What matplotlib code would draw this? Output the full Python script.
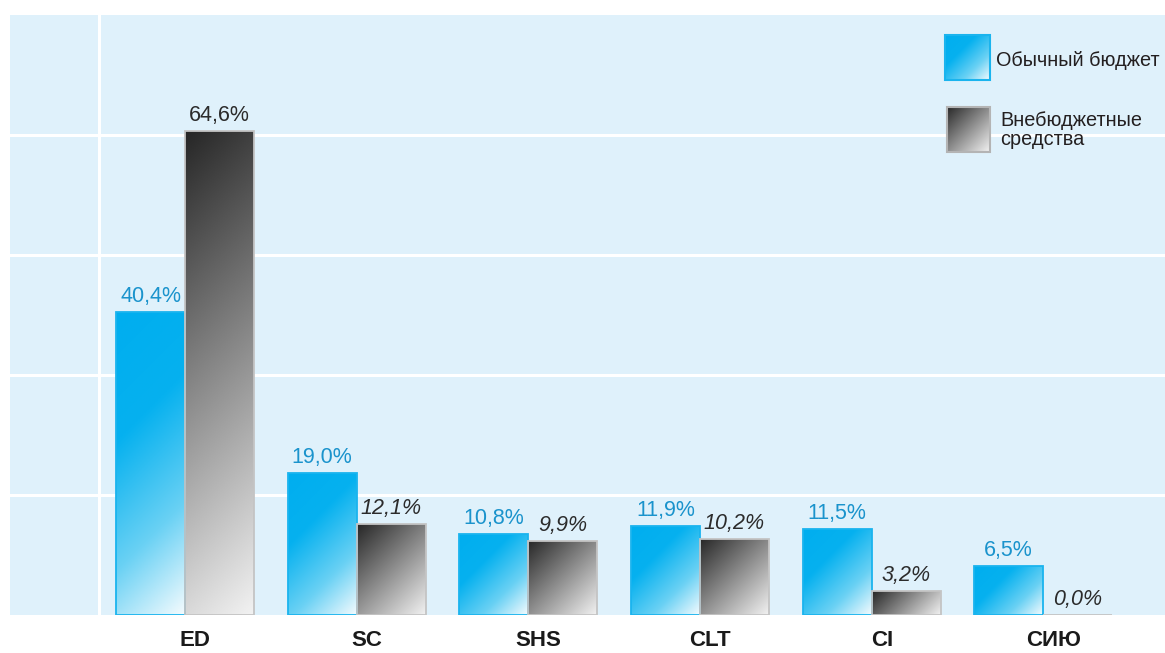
import numpy as np
import matplotlib.pyplot as plt
from matplotlib.colors import LinearSegmentedColormap
from matplotlib.patches import Rectangle

categories = ['ED', 'SC', 'SHS', 'CLT', 'CI', 'СИЮ']
regular_budget = [40.4, 19.0, 10.8, 11.9, 11.5, 6.5]
extra_budget = [64.6, 12.1, 9.9, 10.2, 3.2, 0.0]
legend_labels = ['Обычный бюджет', 'Внебюджетные\nсредства']

plt.rcParams['font.family'] = ['Liberation Sans', 'DejaVu Sans']

blue_cmap = LinearSegmentedColormap.from_list(
    'blue', [(0, '#00aeef'), (0.35, '#06b1ef'), (0.7, '#6ad1f4'), (1, '#f4fbfe')])
gray_cmap = LinearSegmentedColormap.from_list('gray', ['#262626', '#f2f2f2'])

fig = plt.figure(figsize=(11.65, 6.53), dpi=100)
ax = fig.add_axes([10 / 1165, 38 / 653, 1155 / 1165, 600 / 653])
ax.set_facecolor('#dff1fb')

x = np.arange(len(categories))
w = 0.402
ymax = 80
xlim = (-1.02, 5.71)
px_x = 1155 / (xlim[1] - xlim[0])
px_y = 600 / ymax


def gradient(W, H, n=200):
    # diagonal gradient, top-left -> bottom-right in pixel space
    u = np.linspace(0, 1, n)
    cols, rows = np.meshgrid(u, u)
    return (cols * W + rows * H) / (W + H)


def fill_gradient(patch, cmap):
    x0, y0 = patch.get_x(), patch.get_y()
    bw, bh = patch.get_width(), patch.get_height()
    if bh <= 0:
        return
    t = gradient(bw * px_x, bh * px_y)
    im = ax.imshow(t, cmap=cmap, vmin=0, vmax=1, origin='upper', aspect='auto',
                   extent=[x0, x0 + bw, y0, y0 + bh], zorder=1.5)
    im.set_clip_path(patch)


def fmt(v):
    return f'{v:.1f}'.replace('.', ',') + '%'


blue_bars = ax.bar(x - w / 2, regular_budget, w, facecolor='none',
                   edgecolor='#1ab4ee', linewidth=1.3, zorder=2)
gray_bars = ax.bar(x + w / 2, extra_budget, w, facecolor='none',
                   edgecolor='#c4c4c4', linewidth=1.3, zorder=2)

for p in blue_bars:
    fill_gradient(p, blue_cmap)
for p in gray_bars:
    fill_gradient(p, gray_cmap)

label_font = ['Liberation Sans Narrow', 'Liberation Sans', 'DejaVu Sans']
for xi, v in zip(x, regular_budget):
    ax.annotate(fmt(v), (xi - w / 2, v), xytext=(0, 3.5), textcoords='offset points',
                ha='center', va='bottom', fontsize=15.5, color='#1a93cc',
                family=label_font)
for i, (xi, v) in enumerate(zip(x, extra_budget)):
    ax.annotate(fmt(v), (xi + w / 2, v), xytext=(0, 3.5), textcoords='offset points',
                ha='center', va='bottom', fontsize=15.5, color='#2b2b2b',
                style='normal' if i == 0 else 'italic', family=label_font)

ax.set_xlim(*xlim)
ax.set_ylim(0, ymax)
ax.set_yticks([16, 32, 48, 64])
ax.set_yticklabels([])
ax.grid(axis='y', color='white', linewidth=2.2)
ax.axvline(-0.5, color='white', linewidth=2.2, zorder=0.5)
ax.set_axisbelow(True)
ax.set_xticks(x + 0.06, categories, fontsize=16, fontweight='bold', color='#1a1a1a')
ax.tick_params(length=0, pad=11)
for s in ax.spines.values():
    s.set_visible(False)

# legend
for (l, b, ww, hh), cmap, ec, label, ty, tx in [
        ((945, 80, 45, 45), blue_cmap, '#1ab4ee', legend_labels[0], 60, 996),
        ((947, 152, 43, 45), gray_cmap, '#b4b4b4', legend_labels[1], 130, 1000)]:
    lax = fig.add_axes([l / 1165, (653 - b) / 653, ww / 1165, hh / 653])
    lax.imshow(gradient(ww, hh), cmap=cmap, vmin=0, vmax=1, origin='upper',
               aspect='auto', extent=[0, 1, 0, 1])
    lax.add_patch(Rectangle((0, 0), 1, 1, fill=False, edgecolor=ec, linewidth=1.5,
                            clip_on=False))
    lax.set_xlim(0, 1)
    lax.set_ylim(0, 1)
    lax.axis('off')
    fig.text(tx / 1165, 1 - ty / 653, label, va='center', ha='left', fontsize=14.3,
             color='#231f20', linespacing=1.05)

fig.savefig('out.png', dpi=100)
